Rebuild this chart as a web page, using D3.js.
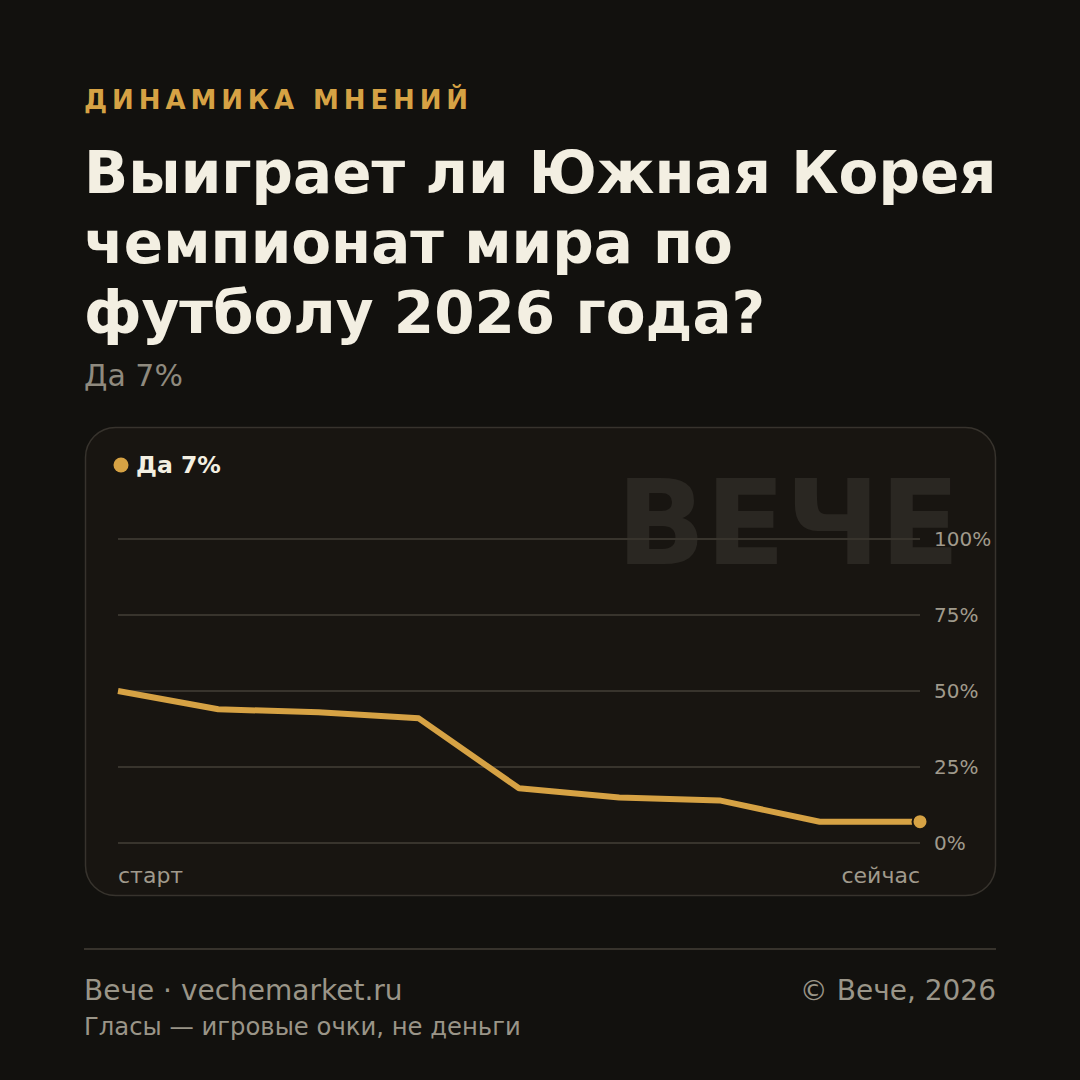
<!DOCTYPE html>
<html><head><meta charset="utf-8">
<script src="https://cdn.jsdelivr.net/npm/d3@7"></script>
<style>
html,body{margin:0;padding:0;background:#12110e;}
svg{display:block;font-family:"DejaVu Sans",sans-serif;}
</style></head>
<body>
<svg id="c" width="1080" height="1080"></svg>
<script>
const kicker = "ДИНАМИКА МНЕНИЙ";
const titleLines = ["Выиграет ли Южная Корея", "чемпионат мира по", "футболу 2026 года?"];
const subtitle = "Да 7%";
const seriesName = "Да 7%";
const steps = [0, 1, 2, 3, 4, 5, 6, 7, 8];
const yesValues = [50, 44, 43, 41, 18, 15, 14, 7, 7];
const yTicks = [0, 25, 50, 75, 100];
const xLabels = ["старт", "сейчас"];
const footerLeft = "Вече · vechemarket.ru";
const footerRight = "© Вече, 2026";
const footerNote = "Гласы — игровые очки, не деньги";
const watermark = "ВЕЧЕ";

const svg = d3.select("#c");
svg.append("rect").attr("width",1080).attr("height",1080).attr("fill","#12110e");

svg.append("text").attr("x",84).attr("y",109).attr("fill","#d6a244")
  .attr("font-size",26).attr("font-weight","bold").attr("letter-spacing","4.9px").text(kicker);

svg.append("g").selectAll("text").data(titleLines).join("text")
  .attr("x",84).attr("y",(d,i)=>193+i*70).attr("fill","#f3efe2")
  .attr("font-size",58).attr("font-weight","bold").text(d=>d);

svg.append("text").attr("x",84).attr("y",386).attr("fill","#8f8a7e")
  .attr("font-size",30).text(subtitle);

// card
svg.append("rect").attr("x",85.5).attr("y",427.5).attr("width",910).attr("height",468)
  .attr("rx",30).attr("fill","#181511").attr("stroke","#37332d").attr("stroke-width",1.5);

// watermark
svg.append("text").attr("x",960).attr("y",564).attr("text-anchor","end")
  .attr("fill","#2a2722").attr("font-size",117).attr("font-weight","bold").text(watermark);

const x = d3.scaleLinear().domain(d3.extent(steps)).range([118,920]);
const y = d3.scaleLinear().domain([0,100]).range([843,539]);

const grid = svg.append("g");
grid.selectAll("line").data(yTicks).join("line")
  .attr("x1",118).attr("x2",920).attr("y1",d=>y(d)).attr("y2",d=>y(d))
  .attr("stroke","#38342d").attr("stroke-width",2);

const yAxis = d3.axisRight(y).tickValues(yTicks).tickFormat(d=>d+"%").tickSize(0).tickPadding(0);
const ya = svg.append("g").attr("transform","translate(934,0)").call(yAxis);
ya.select(".domain").remove();
ya.selectAll("text").attr("fill","#a09a8c").attr("font-size",20)
  .attr("font-family","DejaVu Sans, sans-serif");

svg.append("text").attr("x",118).attr("y",883).attr("fill","#a09a8c").attr("font-size",22).text(xLabels[0]);
svg.append("text").attr("x",920).attr("y",883).attr("text-anchor","end").attr("fill","#a09a8c").attr("font-size",22).text(xLabels[1]);

const line = d3.line().x((d,i)=>x(steps[i])).y(d=>y(d));
svg.append("path").datum(yesValues).attr("d",line).attr("fill","none")
  .attr("stroke","#d6a244").attr("stroke-width",6).attr("stroke-linejoin","round");

svg.append("circle").attr("cx",x(steps[steps.length-1])).attr("cy",y(yesValues[yesValues.length-1]))
  .attr("r",7.5).attr("fill","#d6a244").attr("stroke","#181511").attr("stroke-width",2);

// legend
svg.append("circle").attr("cx",121).attr("cy",465).attr("r",7.5).attr("fill","#d6a244");
svg.append("text").attr("x",136).attr("y",473).attr("fill","#f3efe2").attr("font-size",23.5)
  .attr("font-weight","bold").text(seriesName);

// footer
svg.append("line").attr("x1",84).attr("x2",996).attr("y1",949).attr("y2",949)
  .attr("stroke","#37332c").attr("stroke-width",2);
svg.append("text").attr("x",84).attr("y",1000).attr("fill","#9a9588").attr("font-size",28).text(footerLeft);
svg.append("text").attr("x",996).attr("y",1000).attr("text-anchor","end").attr("fill","#9a9588").attr("font-size",28).text(footerRight);
svg.append("text").attr("x",84).attr("y",1035).attr("fill","#9a9588").attr("font-size",24.3).text(footerNote);
</script>
</body></html>
